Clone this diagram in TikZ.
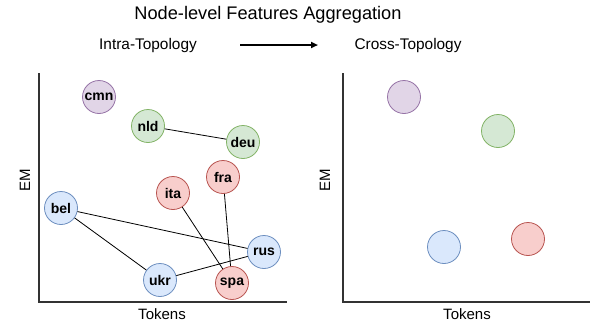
\documentclass[tikz,border=0pt]{standalone}
\usepackage{fontspec}
\setmainfont{Liberation Sans}
\usepackage{tikz}
\usetikzlibrary{arrows.meta,positioning}
\usepackage{xcolor}
\definecolor{purplefill}{HTML}{E1D5E7}
\definecolor{purpleline}{HTML}{9673A6}
\definecolor{greenfill}{HTML}{D5E8D4}
\definecolor{greenline}{HTML}{82B366}
\definecolor{redfill}{HTML}{F8CECC}
\definecolor{redline}{HTML}{B85450}
\definecolor{bluefill}{HTML}{DAE8FC}
\definecolor{blueline}{HTML}{6C8EBF}
\definecolor{axisgray}{HTML}{333333}
\tikzset{
  lang/.style={circle,minimum size=33pt,inner sep=0pt,line width=0.8pt,
    font=\fontsize{14}{16}\selectfont\bfseries},
  purplelang/.style={lang,draw=purpleline,fill=purplefill},
  greenlang/.style={lang,draw=greenline,fill=greenfill},
  redlang/.style={lang,draw=redline,fill=redfill},
  bluelang/.style={lang,draw=blueline,fill=bluefill},
  axis/.style={draw=axisgray,line width=1.2pt},
  link/.style={draw=black,line width=0.8pt},
  arrow/.style={-{Triangle[length=7pt,width=6pt]},draw=black,line width=1.8pt},
  caption/.style={font=\fontsize{15.4}{18}\selectfont},
  axislabel/.style={font=\fontsize{15}{17}\selectfont}
}
\begin{document}
\begin{tikzpicture}[x=1pt,y=-1pt]
  \useasboundingbox (0,0) rectangle (591,325);
  % titles
  \node[font=\fontsize{18.2}{21}\selectfont] (title) at (268,15) {Node-level Features Aggregation};
  \node[caption] (intra) at (148,46) {Intra-Topology};
  \node[caption] (cross) at (408,46) {Cross-Topology};
  \coordinate (arrowa) at (240,45);
  \coordinate (arrowb) at (318,45);
  \draw[arrow] (arrowa) -- (arrowb);
  % left axes
  \coordinate (lo) at (39,302);
  \coordinate (ltop) at (39,73);
  \coordinate (lend) at (287,302);
  \draw[axis] (ltop) -- (lo) -- (lend);
  \node[axislabel,rotate=90] (lem) at (25,180) {EM};
  \node[axislabel] (ltok) at (162,314) {Tokens};
  % right axes
  \coordinate (ro) at (343,302);
  \coordinate (rtop) at (343,73);
  \coordinate (rend) at (590,302);
  \draw[axis] (rtop) -- (ro) -- (rend);
  \node[axislabel,rotate=90] (rem) at (325,180) {EM};
  \node[axislabel] (rtok) at (467,314) {Tokens};
  % intra-topology languages
  \node[purplelang] (cmn) at (99,97) {cmn};
  \node[greenlang] (nld) at (148,126) {nld};
  \node[greenlang] (deu) at (243,142) {deu};
  \node[redlang] (fra) at (223,177) {fra};
  \node[redlang] (ita) at (173,193) {ita};
  \node[bluelang] (bel) at (61,208) {bel};
  \node[bluelang] (rus) at (264,252) {rus};
  \node[bluelang] (ukr) at (160,280) {ukr};
  \node[redlang] (spa) at (232,283) {spa};
  \draw[link] (nld) -- (deu);
  \draw[link] (bel) -- (rus);
  \draw[link] (bel) -- (ukr);
  \draw[link] (ukr) -- (rus);
  \draw[link] (ita) -- (spa);
  \draw[link] (fra) -- (spa);
  % cross-topology groups
  \node[purplelang] (gpurple) at (404,97) {};
  \node[greenlang] (ggreen) at (498,131) {};
  \node[redlang] (gred) at (528,239) {};
  \node[bluelang] (gblue) at (444,247) {};
\end{tikzpicture}
\end{document}
